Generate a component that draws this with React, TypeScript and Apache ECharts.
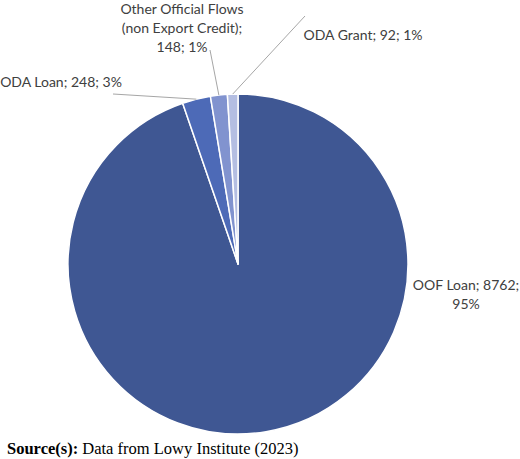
import { useEffect, useRef } from 'react'
import * as echarts from 'echarts'

const categories = ['OOF Loan', 'ODA Loan', 'Other Official Flows (non Export Credit)', 'ODA Grant']
const values = [8762, 248, 148, 92]
const percentLabels = ['95%', '3%', '1%', '1%']
const colors = ['#3f5793', '#4d6ab7', '#8193cf', '#b4bee2']

const CX = 238
const CY = 264
const R = 170

// Excel "best fit" label placement: text centre, leader-line end (null = no line)
const labelPos = [
  { x: 466, y: 294, text: (n: string, v: number, p: string) => `${n}; ${v};\n${p}`, line: null },
  { x: 61, y: 81, text: (n: string, v: number, p: string) => `${n}; ${v}; ${p}`, line: [113, 94] },
  {
    x: 182,
    y: 27,
    text: (n: string, v: number, p: string) => `${n.replace(' (', '\n(')};\n${v}; ${p}`,
    line: [210, 50],
  },
  { x: 363, y: 34, text: (n: string, v: number, p: string) => `${n}; ${v}; ${p}`, line: [305, 16] },
]

const labelFont = { fontFamily: 'Lato', fontSize: 14, fill: '#404040', lineHeight: 19 }

export default function App() {
  const containerRef = useRef<HTMLDivElement>(null)

  useEffect(() => {
    if (!containerRef.current) return

    const chart = echarts.init(containerRef.current, null, { renderer: 'svg' })

    const total = values.reduce((a, b) => a + b, 0)
    let acc = 0
    const graphics: any[] = []
    values.forEach((v, i) => {
      const mid = ((acc + v / 2) / total) * Math.PI * 2
      acc += v
      const pos = labelPos[i]
      if (pos.line) {
        const sx = CX + R * Math.sin(mid)
        const sy = CY - R * Math.cos(mid)
        graphics.push({
          type: 'line',
          shape: { x1: sx, y1: sy, x2: pos.line[0], y2: pos.line[1] },
          style: { stroke: '#a6a6a6', lineWidth: 1 },
          z: 10,
        })
      }
      graphics.push({
        type: 'text',
        x: pos.x,
        y: pos.y,
        style: {
          text: pos.text(categories[i], v, percentLabels[i]),
          align: 'center',
          verticalAlign: 'middle',
          textAlign: 'center',
          textVerticalAlign: 'middle',
          ...labelFont,
        },
        z: 10,
      })
    })

    const option = {
      animation: false,
      title: {
        left: 2,
        top: 435,
        text: '{b|Source(s):} Data from Lowy Institute (2023)',
        textStyle: {
          fontFamily: 'Liberation Serif',
          fontSize: 16.5,
          fontWeight: 'normal',
          color: '#000',
          rich: {
            b: { fontFamily: 'Liberation Serif', fontSize: 16.5, fontWeight: 'bold', color: '#000' },
          },
        },
      },
      graphic: graphics,
      series: [
        {
          type: 'pie',
          center: [CX, CY],
          radius: R,
          startAngle: 90,
          clockwise: true,
          itemStyle: { borderColor: '#fff', borderWidth: 1.5 },
          label: { show: false },
          labelLine: { show: false },
          data: categories.map((name, i) => ({
            name,
            value: values[i],
            itemStyle: { color: colors[i] },
          })),
        },
      ],
    }

    chart.setOption(option)

    return () => {
      chart.dispose()
    }
  }, [])

  return (
    <div
      ref={containerRef}
      style={{ position: 'absolute', left: 0, top: 0, width: '520px', height: '459px', background: '#fff' }}
    />
  )
}
